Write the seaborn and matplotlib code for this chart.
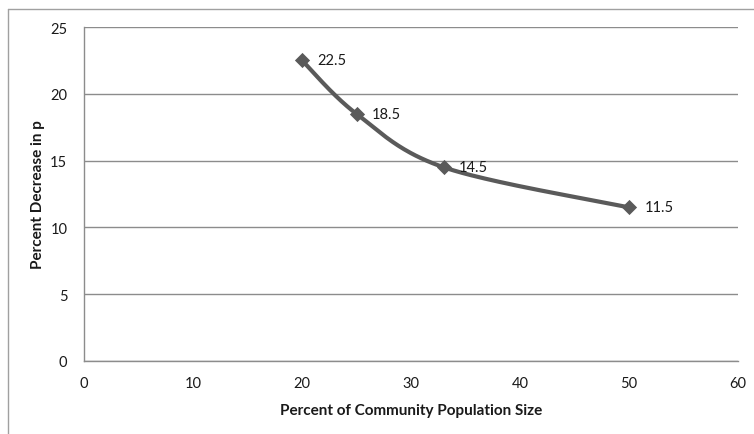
import numpy as np
import pandas as pd
import matplotlib
matplotlib.use("Agg")
import matplotlib.pyplot as plt
from matplotlib.lines import Line2D
import seaborn as sns

# Data
community_pct = [20, 25, 33, 50]
decrease_pct = [22.5, 18.5, 14.5, 11.5]
point_labels = ["22.5", "18.5", "14.5", "11.5"]
x_ticks = [0, 10, 20, 30, 40, 50, 60]
y_ticks = [0, 5, 10, 15, 20, 25]
x_title = "Percent of Community Population Size"
y_title = "Percent Decrease in p"

sns.set_theme(style="white")
plt.rcParams["font.family"] = ["Lato", "DejaVu Sans"]

df = pd.DataFrame({"x": community_pct, "y": decrease_pct})


def excel_smooth(xs, ys, n=60):
    """Excel-style smoothed line: cubic Bezier with Catmull-Rom control points."""
    xs = np.asarray(xs, float)
    ys = np.asarray(ys, float)
    px = np.concatenate([[xs[0]], xs, [xs[-1]]])
    py = np.concatenate([[ys[0]], ys, [ys[-1]]])
    outx, outy = [], []
    t = np.linspace(0, 1, n)
    for i in range(1, len(px) - 2):
        p0 = np.array([px[i], py[i]])
        p3 = np.array([px[i + 1], py[i + 1]])
        c1 = p0 + (np.array([px[i + 1], py[i + 1]]) - np.array([px[i - 1], py[i - 1]])) / 6.0
        c2 = p3 - (np.array([px[i + 2], py[i + 2]]) - np.array([px[i], py[i]])) / 6.0
        b = ((1 - t) ** 3)[:, None] * p0 + (3 * (1 - t) ** 2 * t)[:, None] * c1 \
            + (3 * (1 - t) * t ** 2)[:, None] * c2 + (t ** 3)[:, None] * p3
        outx.extend(b[:, 0])
        outy.extend(b[:, 1])
    return np.array(outx), np.array(outy)


fig = plt.figure(figsize=(7.54, 4.35), dpi=100)
ax = fig.add_axes([84 / 754, 1 - 362 / 435, (738 - 84) / 754, (362 - 28) / 435])

sx, sy = excel_smooth(df["x"], df["y"])
smooth_df = pd.DataFrame({"x": sx, "y": sy})
line_color = "#5a5a5a"
sns.lineplot(data=smooth_df, x="x", y="y", ax=ax, color=line_color, linewidth=3,
             sort=False, estimator=None, zorder=3)
sns.scatterplot(data=df, x="x", y="y", ax=ax, marker="D", s=60, color=line_color,
                edgecolor=line_color, linewidth=0, zorder=4)

for xv, yv, lab in zip(community_pct, decrease_pct, point_labels):
    ax.annotate(lab, (xv, yv), xytext=(11, 0), textcoords="offset points",
                ha="left", va="center", fontsize=10.5, color="#1a1a1a")

ax.set_xlim(0, 60)
ax.set_ylim(0, 25)
ax.set_xticks(x_ticks)
ax.set_yticks(y_ticks)
ax.set_xticklabels([str(v) for v in x_ticks], fontsize=10.5, color="#1a1a1a")
ax.set_yticklabels([str(v) for v in y_ticks], fontsize=10.5, color="#1a1a1a")
ax.tick_params(axis="x", length=0, pad=11)
ax.tick_params(axis="y", length=0, pad=12)
ax.grid(axis="y", color="#8c8c8c", linewidth=1)
ax.set_axisbelow(True)
for side in ["top", "right"]:
    ax.spines[side].set_visible(False)
for side in ["left", "bottom"]:
    ax.spines[side].set_color("#8c8c8c")
    ax.spines[side].set_linewidth(1)

ax.set_xlabel(x_title, fontsize=11, fontweight="bold", color="#1a1a1a", labelpad=9)
ax.set_ylabel(y_title, fontsize=11, fontweight="bold", color="#1a1a1a", labelpad=4)

# Chart area border (left and top)
fig.add_artist(Line2D([8 / 754, 8 / 754], [0, 1 - 10 / 435], transform=fig.transFigure,
                      color="#a0a0a0", linewidth=1))
fig.add_artist(Line2D([8 / 754, 1], [1 - 10 / 435, 1 - 10 / 435], transform=fig.transFigure,
                      color="#a0a0a0", linewidth=1))

fig.savefig("out.png", dpi=100)
